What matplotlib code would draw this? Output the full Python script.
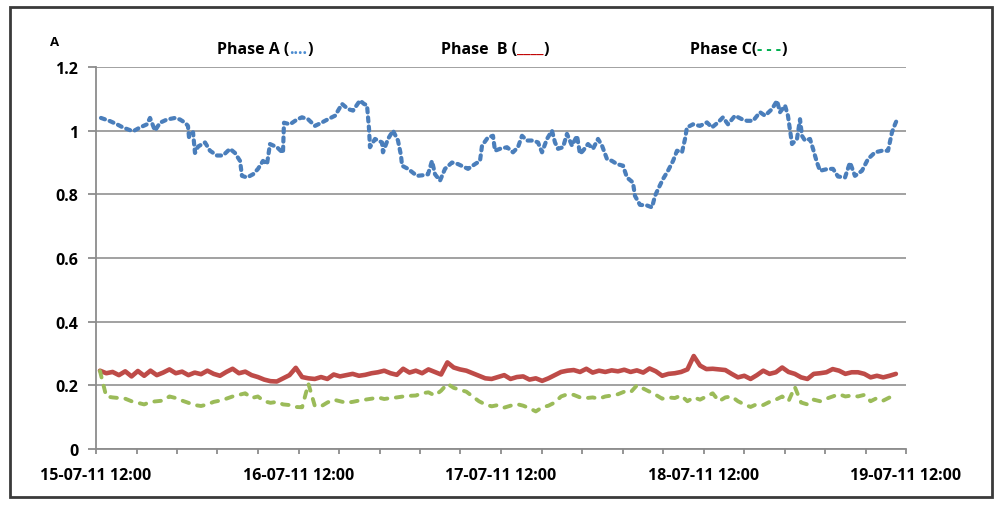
import matplotlib
matplotlib.use('Agg')
import matplotlib.pyplot as plt
import matplotlib.dates as mdates
import pandas as pd
from matplotlib.patches import Rectangle

plt.rcParams['font.family'] = ['Open Sans', 'DejaVu Sans']

# ---------------- data ----------------
START = '2011-07-15 12:00'
END = '2011-07-19 12:00'
y_ticks = [0, 0.2, 0.4, 0.6, 0.8, 1.0, 1.2]
y_tick_labels = ['0', '0.2', '0.4', '0.6', '0.8', '1', '1.2']

# Phase A: hours after start, current (A)
A_hours = [0.59, 1.66, 2.49, 3.2, 4.39, 5.21, 6.04, 6.4, 6.99, 7.59,
           8.41, 9.36, 9.96, 10.55, 10.9, 11.02, 11.5, 11.73, 12.09, 12.92,
           13.51, 14.34, 15.05, 15.88, 16.47, 17.07, 17.3, 17.9, 18.61, 19.2,
           19.79, 20.27, 20.62, 21.45, 22.16, 22.28, 22.99, 23.82, 24.41, 25.13,
           25.96, 26.79, 27.5, 28.33, 29.16, 29.87, 30.46, 31.29, 31.76, 32.12,
           32.36, 32.47, 33.07, 33.9, 34.01, 34.61, 35.2, 35.79, 36.15, 36.27,
           36.98, 38.04, 38.76, 39.35, 39.82, 40.18, 40.77, 41.36, 42.19, 42.9,
           44.09, 44.92, 45.51, 45.75, 46.46, 47.05, 47.29, 47.88, 48.71, 49.42,
           50.01, 50.49, 51.08, 51.79, 52.39, 52.86, 53.45, 54.04, 54.4, 54.76,
           55.35, 55.82, 56.41, 57.01, 57.36, 57.72, 58.31, 58.9, 59.5, 59.97,
           60.56, 61.15, 61.75, 62.46, 62.93, 63.64, 63.88, 64.47, 65.3, 65.9,
           66.25, 66.61, 67.2, 67.79, 68.39, 68.86, 69.45, 69.81, 70.04, 70.75,
           71.58, 72.41, 73.0, 73.72, 74.31, 74.9, 75.73, 76.56, 77.15, 77.87,
           78.7, 79.29, 80.12, 80.71, 81.07, 81.66, 82.01, 82.37, 82.49, 83.08,
           83.44, 83.67, 84.03, 84.62, 84.98, 85.45, 85.81, 86.76, 87.35, 87.94,
           88.77, 89.36, 89.95, 90.78, 91.5, 92.33, 93.15, 93.87, 94.34, 94.7,
           95.05]
A_vals = [1.04, 1.03, 1.02, 1.01, 0.998, 1.01, 1.02, 1.04, 1.0, 1.025,
          1.035, 1.04, 1.035, 1.025, 1.015, 0.98, 0.995, 0.93, 0.95, 0.963,
          0.937, 0.922, 0.922, 0.943, 0.93, 0.905, 0.858, 0.853, 0.863, 0.88,
          0.905, 0.895, 0.958, 0.948, 0.93, 1.025, 1.02, 1.035, 1.042, 1.036,
          1.015, 1.026, 1.036, 1.047, 1.084, 1.068, 1.063, 1.095, 1.084, 1.08,
          1.005, 0.948, 0.974, 0.963, 0.932, 0.974, 1.0, 0.969, 0.922, 0.89,
          0.88, 0.858, 0.86, 0.863, 0.905, 0.863, 0.843, 0.88, 0.9, 0.895,
          0.88, 0.895, 0.905, 0.953, 0.979, 0.984, 0.937, 0.943, 0.948, 0.932,
          0.948, 0.984, 0.969, 0.969, 0.963, 0.932, 0.974, 1.0, 0.963, 0.943,
          0.948, 0.99, 0.953, 0.984, 0.927, 0.937, 0.958, 0.943, 0.974, 0.953,
          0.911, 0.905, 0.895, 0.89, 0.853, 0.837, 0.795, 0.767, 0.765, 0.759,
          0.795, 0.816, 0.848, 0.874, 0.905, 0.937, 0.932, 0.974, 1.01, 1.02,
          1.015, 1.026, 1.01, 1.026, 1.042, 1.02, 1.047, 1.036, 1.031, 1.031,
          1.058, 1.047, 1.068, 1.094, 1.058, 1.079, 1.047, 0.979, 0.958, 0.974,
          1.036, 0.984, 0.969, 0.974, 0.943, 0.9, 0.874, 0.88, 0.88, 0.856,
          0.853, 0.9, 0.858, 0.874, 0.911, 0.932, 0.937, 0.937, 0.995, 1.02,
          1.042]

# Phases B and C: regularly sampled from 0.47 h to 94.8 h after start
BC_first_hour = 0.47
BC_last_hour = 94.8
B_vals = [0.246, 0.238, 0.242, 0.232, 0.244, 0.228, 0.245, 0.230, 0.246, 0.232,
          0.240, 0.250, 0.238, 0.243, 0.232, 0.240, 0.235, 0.246, 0.236, 0.230,
          0.242, 0.252, 0.238, 0.243, 0.232, 0.226, 0.218, 0.213, 0.212, 0.222,
          0.232, 0.255, 0.226, 0.222, 0.220, 0.226, 0.220, 0.234, 0.228, 0.232,
          0.236, 0.230, 0.233, 0.238, 0.241, 0.246, 0.238, 0.233, 0.252, 0.240,
          0.246, 0.238, 0.250, 0.242, 0.234, 0.272, 0.256, 0.250, 0.246, 0.238,
          0.230, 0.222, 0.220, 0.226, 0.232, 0.220, 0.226, 0.228, 0.218, 0.222,
          0.214, 0.222, 0.232, 0.242, 0.246, 0.248, 0.242, 0.252, 0.240, 0.246,
          0.242, 0.247, 0.244, 0.249, 0.242, 0.247, 0.240, 0.253, 0.244, 0.230,
          0.236, 0.238, 0.242, 0.250, 0.292, 0.262, 0.251, 0.252, 0.250, 0.248,
          0.236, 0.225, 0.230, 0.220, 0.232, 0.246, 0.236, 0.241, 0.256, 0.242,
          0.236, 0.225, 0.220, 0.236, 0.238, 0.241, 0.251, 0.246, 0.236, 0.241,
          0.241, 0.236, 0.225, 0.230, 0.225, 0.230, 0.236]
C_vals = [0.245, 0.165, 0.162, 0.160, 0.158, 0.150, 0.145, 0.140, 0.148, 0.150,
          0.152, 0.165, 0.160, 0.152, 0.145, 0.138, 0.135, 0.140, 0.148, 0.152,
          0.158, 0.165, 0.170, 0.175, 0.160, 0.165, 0.150, 0.145, 0.148, 0.140,
          0.138, 0.132, 0.131, 0.205, 0.136, 0.134, 0.146, 0.155, 0.150, 0.145,
          0.148, 0.152, 0.155, 0.158, 0.162, 0.157, 0.160, 0.162, 0.165, 0.167,
          0.168, 0.175, 0.178, 0.168, 0.183, 0.205, 0.192, 0.186, 0.180, 0.165,
          0.150, 0.140, 0.134, 0.138, 0.130, 0.136, 0.141, 0.136, 0.128, 0.118,
          0.131, 0.136, 0.146, 0.165, 0.172, 0.170, 0.162, 0.160, 0.162, 0.158,
          0.165, 0.168, 0.172, 0.180, 0.178, 0.200, 0.190, 0.180, 0.170, 0.158,
          0.162, 0.160, 0.168, 0.150, 0.162, 0.155, 0.165, 0.175, 0.150, 0.162,
          0.165, 0.150, 0.140, 0.132, 0.141, 0.138, 0.148, 0.155, 0.165, 0.150,
          0.195, 0.146, 0.140, 0.155, 0.150, 0.158, 0.165, 0.172, 0.165, 0.168,
          0.165, 0.170, 0.150, 0.160, 0.152, 0.162, 0.168]

# ---------------- figure ----------------
fig = plt.figure(figsize=(10, 5.06), dpi=100)
fig.patch.set_facecolor('white')
ax = fig.add_axes([0.096, 0.1107, 0.81, 0.7549])

start = pd.Timestamp(START)
end = pd.Timestamp(END)
t_a = start + pd.to_timedelta(A_hours, unit='h')
t_bc = pd.date_range(start + pd.Timedelta(hours=BC_first_hour),
                     start + pd.Timedelta(hours=BC_last_hour), periods=len(B_vals))

ax.plot(t_a, A_vals, color='#4A7EBB', lw=3.0, dashes=(1.0, 1.2),
        dash_capstyle='round', zorder=3)
ax.plot(t_bc, B_vals, color='#BE4B48', lw=3.3, solid_capstyle='round',
        solid_joinstyle='round', zorder=3)
ax.plot(t_bc, C_vals, color='#9BBB59', lw=2.8, dashes=(1.7, 2.2),
        dash_capstyle='round', zorder=3)

ax.set_ylim(0, 1.2)
ax.set_xlim(start, end)
ax.set_yticks(y_ticks)
ax.set_yticklabels(y_tick_labels)

major = [start + pd.Timedelta(days=d) for d in range(5)]
minor = [start + pd.Timedelta(hours=4.8 * i) for i in range(21)]
ax.set_xticks(major)
ax.set_xticks(minor, minor=True)
ax.xaxis.set_major_formatter(mdates.DateFormatter('%d-%m-%y %H:%M'))

ax.yaxis.grid(True, color='#9a9a9a', lw=1.3)
ax.set_axisbelow(True)
for s in ['top', 'right']:
    ax.spines[s].set_visible(False)
for s in ['left', 'bottom']:
    ax.spines[s].set_color('#8c8c8c')
    ax.spines[s].set_linewidth(1.3)

ax.tick_params(axis='y', length=5.8, width=1.3, color='#8c8c8c', pad=7,
               labelsize=11.5)
ax.tick_params(axis='x', which='both', length=3.6, width=1.3, color='#8c8c8c',
               pad=9.5, labelsize=11.5)
for lab in ax.get_xticklabels() + ax.get_yticklabels():
    lab.set_fontweight('bold')

fig.text(0.055, 1 - 42 / 506, 'A', fontsize=9.5, fontweight='bold',
         ha='center', va='center')


def colored_title(x, y, parts):
    t = fig.text(x, y, parts[0][0], color=parts[0][1], fontsize=11.5,
                 fontweight='bold', ha='left', va='center')
    for s, c in parts[1:]:
        t = ax.annotate(s, xy=(1, 0), xycoords=t, xytext=(0, 0),
                        textcoords='offset points', color=c, fontsize=11.5,
                        fontweight='bold', ha='left', va='bottom',
                        annotation_clip=False)


ty = 1 - 50 / 506
colored_title(0.217, ty, [('Phase A (', 'black'), ('....', '#4A8BD0'), (')', 'black')])
colored_title(0.441, ty, [('Phase  B (', 'black'), ('____', '#C00000'), (')', 'black')])
colored_title(0.690, ty, [('Phase C(', 'black'), ('- - -', '#00B050'), (')', 'black')])

fig.patches.append(Rectangle((0.010, 0.016), 0.982, 0.968, transform=fig.transFigure,
                             fill=False, ec='#3a3a3a', lw=2))

fig.savefig('out.png', dpi=100)
